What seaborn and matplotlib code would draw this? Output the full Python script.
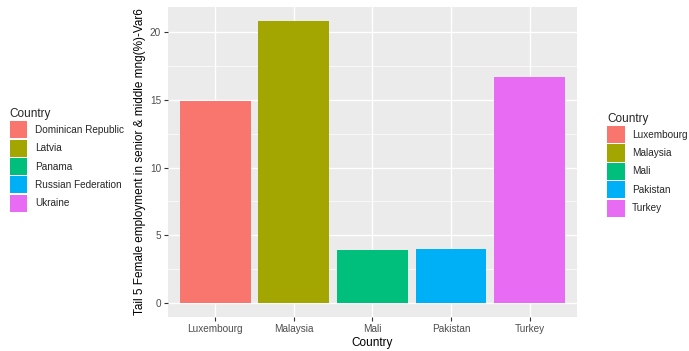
import matplotlib
matplotlib.use("Agg")
import matplotlib.pyplot as plt
from matplotlib.patches import Patch
from matplotlib.ticker import MultipleLocator
import seaborn as sns
import pandas as pd

# data
countries = ["Luxembourg", "Malaysia", "Mali", "Pakistan", "Turkey"]
values = [14.9, 20.8, 3.9, 4.0, 16.7]
other_countries = ["Dominican Republic", "Latvia", "Panama", "Russian Federation", "Ukraine"]
palette = ["#F8766D", "#A3A500", "#00BF7D", "#00B0F6", "#E76BF3"]

df = pd.DataFrame({"Country": countries, "Value": values})

sns.set_theme(style="darkgrid")
plt.rcParams["font.family"] = ["Liberation Sans", "DejaVu Sans"]

fig = plt.figure(figsize=(6.89, 3.51), dpi=100)
ax = fig.add_axes([0.244, 0.097, 0.593, 0.883])
ax.set_facecolor("#EBEBEB")

sns.barplot(data=df, x="Country", y="Value", hue="Country", palette=palette,
            width=0.9, legend=False, ax=ax, saturation=1, linewidth=0)

ax.set_xlim(-0.6, 4.6)
ax.set_ylim(-1.04, 21.87)
ax.yaxis.set_major_locator(MultipleLocator(5))
ax.yaxis.set_minor_locator(MultipleLocator(2.5))
ax.grid(which="major", color="white", linewidth=1.0)
ax.grid(which="minor", axis="y", color="white", linewidth=0.5)
ax.set_axisbelow(True)
for s in ax.spines.values():
    s.set_visible(False)

ax.tick_params(axis="both", which="major", length=3, width=0.8, color="#333333",
               labelsize=7.2, labelcolor="#4D4D4D", pad=2, bottom=True, left=True)
ax.tick_params(axis="both", which="minor", length=0)
ax.set_xlabel("Country", fontsize=8.5, color="black", labelpad=2)
ax.set_ylabel("Tail 5 Female employment in senior & middle mng(%)-Var6",
              fontsize=8.5, color="black", labelpad=3)

def make_legend(names, x, y):
    handles = [Patch(facecolor=c, edgecolor="none", label=n) for n, c in zip(names, palette)]
    leg = fig.legend(handles=handles, title="Country", loc="upper left",
                     bbox_to_anchor=(x, y), frameon=False, fontsize=7.2,
                     title_fontsize=8.5, handlelength=1.75, handleheight=2.25,
                     labelspacing=0.13, handletextpad=0.75, borderpad=0,
                     alignment="left")
    return leg

make_legend(other_countries, 0.007, 0.707)
make_legend(countries, 0.874, 0.693)

fig.savefig("out.png", dpi=100)
